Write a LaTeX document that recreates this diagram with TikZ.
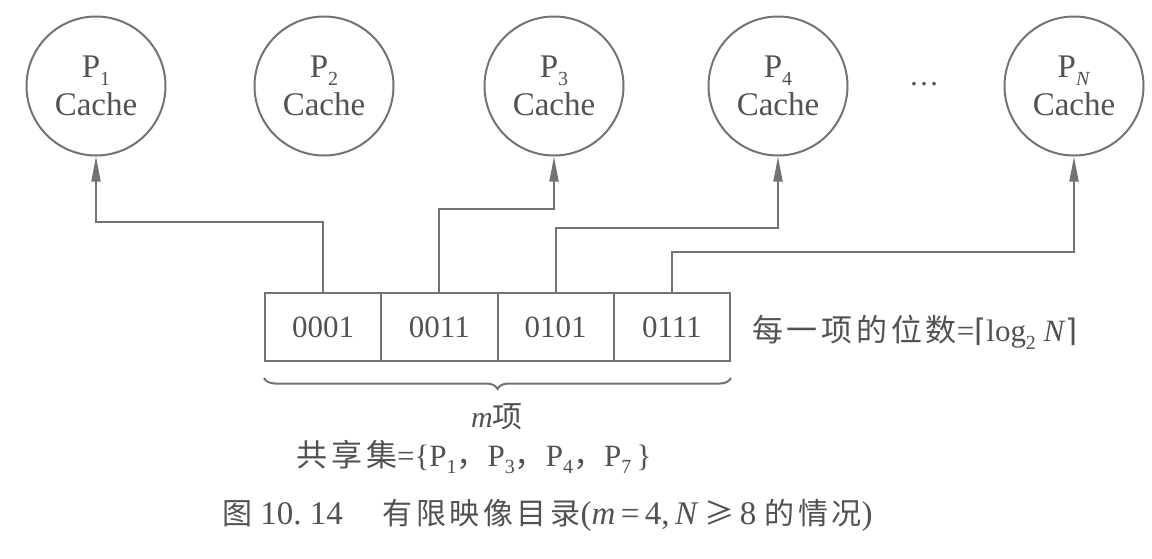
\documentclass[tikz,border=0pt]{standalone}
\usepackage{fontspec}
\setmainfont{Liberation Serif}
\newfontfamily\cjk[LetterSpace=12]{Noto Sans CJK SC}
\newfontfamily\dvs{DejaVu Sans}
\usetikzlibrary{arrows.meta,decorations.pathreplacing}
\newcommand\sbs[1]{\raisebox{-0.25em}{\fontsize{20}{20}\selectfont #1}}
\begin{document}
\begin{tikzpicture}[x=1pt,y=-1pt,
  ink/.style={draw=black!55, line width=2pt},
  cachenode/.style={circle, ink, minimum size=139pt, inner sep=0pt, align=center, text=black!68, font=\fontsize{33}{38}\selectfont},
  cell/.style={rectangle, ink, minimum width=116.25pt, minimum height=68pt, inner sep=0pt, text=black!68, font=\fontsize{31}{34}\selectfont},
  link/.style={ink, -{Triangle[length=25pt,width=9pt]}},
  lbl/.style={text=black!68, inner sep=0pt}
]
\useasboundingbox (0,0) rectangle (1152,558);
\fill[white] (0,0) rectangle (1152,558);

\node[cachenode] (p1) at (96,86) {P\sbs{1}\\Cache};
\node[cachenode] (p2) at (324,86) {P\sbs{2}\\Cache};
\node[cachenode] (p3) at (554,86) {P\sbs{3}\\Cache};
\node[cachenode] (p4) at (778,86) {P\sbs{4}\\Cache};
\node[cachenode] (pn) at (1074,86) {P\sbs{\textit{N}}\\Cache};
\node[lbl, font=\fontsize{30}{30}\selectfont] (dots) at (924,84) {\dots};

\node[cell] (c1) at (323.125,327) {0001};
\node[cell] (c2) at (439.375,327) {0011};
\node[cell] (c3) at (555.625,327) {0101};
\node[cell] (c4) at (671.875,327) {0111};

\draw[link] (c1.north) -- (c1.north |- 0,222) -| (p1.south);
\draw[link] (c2.north) -- (c2.north |- 0,209) -| (p3.south);
\draw[link] (c3.north) -- (c3.north |- 0,228) -| (p4.south);
\draw[link] (c4.north) -- (c4.north |- 0,252) -| (pn.south);

\draw[ink, decorate, decoration={brace, mirror, amplitude=11pt}]
  ([yshift=-16pt]c1.south west) -- ([yshift=-16pt]c4.south east);

\node[lbl, anchor=west, font=\fontsize{31}{32}\selectfont] (bits) at (752,332)
  {{\cjk 每一项的位数}={\dvs\fontsize{31}{32}\selectfont ⌈}log\sbs{2} \textit{N}{\dvs\fontsize{31}{32}\selectfont ⌉}};
\node[lbl, font=\fontsize{30}{32}\selectfont] (mitems) at (497,417) {\textit{m}{\cjk 项}};
\node[lbl, font=\fontsize{31}{32}\selectfont] (share) at (474,457)
  {{\cjk 共享集}=\{P\sbs{1}{\cjk ，}P\sbs{3}{\cjk ，}P\sbs{4}{\cjk ，}P\sbs{7}\,\}};
\node[lbl, anchor=west, font=\fontsize{33}{34}\selectfont] (cap) at (222,515)
  {{\cjk\fontsize{30}{32}\selectfont 图}\ 10.\ 14\hspace{1.2em}{\cjk\fontsize{30}{32}\selectfont 有限映像目录}(\textit{m}\,=\,4,\,\textit{N}\,{\cjk\fontsize{30}{32}\selectfont ≥}\,8\ {\cjk\fontsize{30}{32}\selectfont 的情况})};
\end{tikzpicture}
\end{document}
